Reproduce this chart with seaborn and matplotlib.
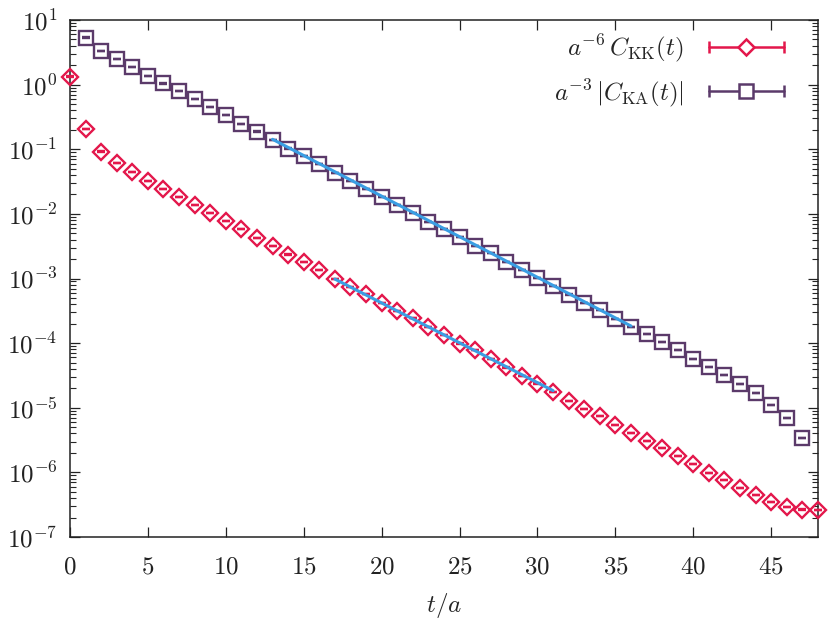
import numpy as np
import pandas as pd
import matplotlib
matplotlib.use('Agg')
import matplotlib.pyplot as plt
import seaborn as sns
from matplotlib.lines import Line2D
from matplotlib.legend_handler import HandlerLine2D, HandlerTuple
from matplotlib.ticker import FuncFormatter, LogLocator, NullFormatter

# data
t_kk = list(range(0, 49))
c_kk = [1.33, 0.206, 0.0916, 0.0612, 0.0445, 0.0323, 0.0243, 0.0182, 0.0137, 0.0103,
        7.76e-3, 5.83e-3, 4.24e-3, 3.18e-3, 2.34e-3, 1.80e-3, 1.35e-3, 9.8e-4, 7.38e-4, 5.75e-4,
        4.17e-4, 3.14e-4, 2.45e-4, 1.78e-4, 1.34e-4, 9.8e-5, 7.83e-5, 5.68e-5, 4.2e-5, 3.1e-5,
        2.37e-5, 1.75e-5, 1.27e-5, 9.6e-6, 7.45e-6, 5.4e-6, 4.07e-6, 3.05e-6, 2.38e-6, 1.79e-6,
        1.35e-6, 9.8e-7, 7.6e-7, 5.73e-7, 4.46e-7, 3.48e-7, 2.91e-7, 2.65e-7, 2.6e-7]

t_ka = list(range(1, 48))
c_ka = [5.32, 3.31, 2.49, 1.88, 1.36, 1.05, 0.796, 0.60, 0.451, 0.339,
        0.246, 0.187, 0.139, 0.102, 0.0787, 0.0592, 0.0429, 0.0323, 0.0243, 0.0182,
        0.0137, 0.0103, 7.49e-3, 5.83e-3, 4.39e-3, 3.18e-3, 2.48e-3, 1.80e-3, 1.35e-3, 1.02e-3,
        7.66e-4, 5.65e-4, 4.18e-4, 3.26e-4, 2.36e-4, 1.78e-4, 1.38e-4, 1.04e-4, 7.83e-5, 5.68e-5,
        4.27e-5, 3.21e-5, 2.33e-5, 1.69e-5, 1.10e-5, 6.94e-6, 3.40e-6]

# fit lines (end points of straight lines in log scale)
fit_kk_t = [17, 31]
fit_kk_v = [9.8e-4, 1.84e-5]
fit_ka_t = [13, 36]
fit_ka_v = [0.1426, 1.84e-4]

red = '#E3174B'
purple = '#5B3A6A'
blue = '#3A9EE3'

sns.set_theme(style='ticks')
plt.rcParams['font.family'] = ['DejaVu Serif']
plt.rcParams['mathtext.fontset'] = 'cm'

fig = plt.figure(figsize=(8.3, 6.22), dpi=100)
ax = fig.add_axes([0.0843, 0.1367, 0.9012, 0.8311])

df_kk = pd.DataFrame({'t': t_kk, 'c': c_kk})
df_ka = pd.DataFrame({'t': t_ka, 'c': c_ka})

for art in [
    ax.errorbar(df_kk['t'], df_kk['c'], yerr=df_kk['c'] * 0.012, fmt='D', ms=8.5, mfc='none',
                mec=red, mew=1.7, color=red, ecolor=red, elinewidth=1.2, capsize=3,
                capthick=1.4, zorder=3),
    ax.errorbar(df_ka['t'], df_ka['c'], yerr=df_ka['c'] * 0.012, fmt='s', ms=10, mfc='none',
                mec=purple, mew=1.7, color=purple, ecolor=purple, elinewidth=1.2, capsize=3,
                capthick=1.4, zorder=3)]:
    for child in art.get_children():
        child.set_clip_on(False)

sns.lineplot(x=fit_ka_t, y=fit_ka_v, color=blue, lw=2.2, ax=ax, zorder=4)
sns.lineplot(x=fit_kk_t, y=fit_kk_v, color=blue, lw=2.2, ax=ax, zorder=4)

ax.set_yscale('log')
ax.set_xlim(0, 48)
ax.set_ylim(1e-7, 1e1)
ax.set_xticks(range(0, 50, 5))
ax.xaxis.set_major_formatter(FuncFormatter(lambda v, p: r'$%d$' % v))
ax.yaxis.set_major_locator(LogLocator(base=10, numticks=20))
ax.yaxis.set_minor_locator(LogLocator(base=10, subs=np.arange(2, 10), numticks=20))
ax.yaxis.set_minor_formatter(NullFormatter())
ax.yaxis.set_major_formatter(FuncFormatter(lambda v, p: r'$10^{%d}$' % round(np.log10(v))))
ax.tick_params(which='major', direction='in', top=True, right=True, length=7, width=0.9,
               labelsize=18, colors='#222222')
ax.tick_params(which='minor', direction='in', top=False, right=True, length=4, width=0.8)
ax.tick_params(axis='x', pad=13)
ax.tick_params(axis='y', pad=9)
for s in ax.spines.values():
    s.set_linewidth(1.1)
    s.set_color('#222222')

ax.set_xlabel(r'$t/a$', fontsize=18, labelpad=9)
ax.set_ylabel('')

# gnuplot style legend: horizontal error bar with marker in the middle
cap_kk = Line2D([], [], color=red, lw=1.8, marker='|', ms=9, mew=1.8)
mk_kk = Line2D([], [], ls='none', marker='D', ms=8.5, mfc='white', mec=red, mew=1.8)
cap_ka = Line2D([], [], color=purple, lw=1.8, marker='|', ms=9, mew=1.8)
mk_ka = Line2D([], [], ls='none', marker='s', ms=10, mfc='white', mec=purple, mew=1.8)
hmap = {cap_kk: HandlerLine2D(numpoints=2), cap_ka: HandlerLine2D(numpoints=2),
        mk_kk: HandlerLine2D(numpoints=1), mk_ka: HandlerLine2D(numpoints=1)}
hmap[tuple] = HandlerTuple(ndivide=1, pad=0)
leg = ax.legend([(cap_kk, mk_kk), (cap_ka, mk_ka)],
                [r'$a^{-6}\,C_{\mathrm{KK}}(t)$', r'$a^{-3}\,|C_{\mathrm{KA}}(t)|$'],
                handler_map=hmap, loc='upper right', bbox_to_anchor=(0.981, 1.0),
                markerfirst=False, frameon=False,
                fontsize=18, handlelength=3.6, handletextpad=0.7, labelspacing=0.5,
                borderaxespad=0.3, borderpad=0.2)

plt.savefig('out.png', dpi=100)
plt.close()
